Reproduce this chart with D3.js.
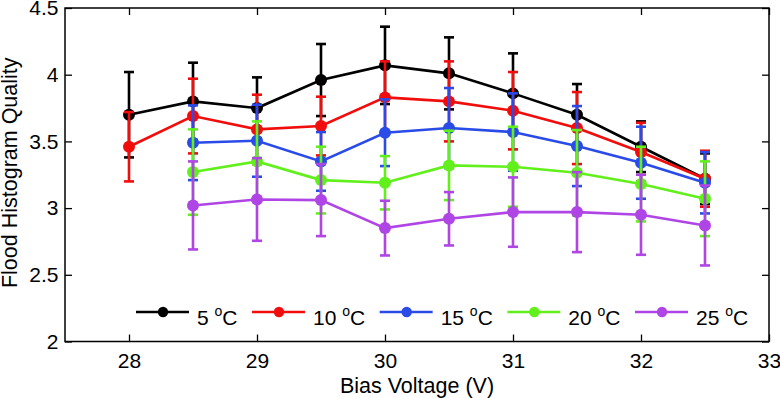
<!DOCTYPE html>
<html lang="en">
<head>
<meta charset="utf-8">
<title>Flood Histogram Quality vs Bias Voltage</title>
<style>
  body { margin: 0; background: #fff; }
  svg { display: block; font-family: "Liberation Sans", Arial, sans-serif; }
  .axis text { font-size: 21px; fill: #000; }
  .axis line { stroke: #000; stroke-width: 1.3; }
</style>
<script src="https://d3js.org/d3.v7.min.js"></script>
</head>
<body>
<script>
  // data
  const voltage = [28, 28.5, 29, 29.5, 30, 30.5, 31, 31.5, 32, 32.5]
  const temps = ["5", "10", "15", "20", "25"]
  const q5  = [3.70, 3.80, 3.75, 3.96, 4.07, 4.01, 3.86, 3.70, 3.46, 3.22]
  const e5  = [0.32, 0.29, 0.23, 0.27, 0.29, 0.27, 0.30, 0.23, 0.19, 0.19]
  const q10 = [3.46, 3.69, 3.59, 3.615, 3.83, 3.80, 3.73, 3.60, 3.42, 3.22]
  const e10 = [0.26, 0.28, 0.26, 0.22, 0.27, 0.30, 0.29, 0.27, 0.22, 0.21]
  const q15 = [null, 3.49, 3.505, 3.35, 3.565, 3.60, 3.57, 3.465, 3.34, 3.19]
  const e15 = [null, 0.28, 0.27, 0.22, 0.25, 0.30, 0.29, 0.30, 0.27, 0.23]
  const q20 = [null, 3.27, 3.35, 3.21, 3.19, 3.32, 3.31, 3.265, 3.18, 3.07]
  const e20 = [null, 0.32, 0.30, 0.25, 0.20, 0.26, 0.30, 0.32, 0.28, 0.28]
  const q25 = [null, 3.02, 3.065, 3.06, 2.85, 2.92, 2.97, 2.97, 2.95, 2.87]
  const e25 = [null, 0.33, 0.31, 0.27, 0.205, 0.20, 0.26, 0.30, 0.30, 0.30]
  const xTicks = [28, 29, 30, 31, 32, 33]
  const yTicks = [2, 2.5, 3, 3.5, 4, 4.5]

  const colors = ["#000000", "#f20d0d", "#2a4be8", "#62f01c", "#b045e6"]
  const means = [q5, q10, q15, q20, q25]
  const errs = [e5, e10, e15, e20, e25]

  const width = 780, height = 398
  const plotLeft = 65, plotRight = 769, plotTop = 8, plotBottom = 341.5

  const svg = d3.select("body").append("svg")
      .attr("width", width)
      .attr("height", height)

  const x = d3.scaleLinear().domain([27.5, 33]).range([plotLeft, plotRight])
  const y = d3.scaleLinear().domain([2, 4.5]).range([plotBottom, plotTop])

  // axes, ticks pointing inward on all four sides
  svg.append("g").attr("class", "axis")
      .attr("transform", `translate(0,${plotBottom})`)
      .call(d3.axisBottom(x).tickValues(xTicks).tickSize(-7).tickPadding(12).tickFormat(d3.format("d")))
  svg.append("g").attr("class", "axis")
      .attr("transform", `translate(0,${plotTop})`)
      .call(d3.axisTop(x).tickValues(xTicks).tickSize(-7).tickFormat(""))
  svg.append("g").attr("class", "axis")
      .attr("transform", `translate(${plotLeft},0)`)
      .call(d3.axisLeft(y).tickValues(yTicks).tickSize(-7).tickPadding(6.5).tickFormat(d => d))
  svg.append("g").attr("class", "axis")
      .attr("transform", `translate(${plotRight},0)`)
      .call(d3.axisRight(y).tickValues(yTicks).tickSize(-7).tickFormat(""))
  svg.selectAll(".axis .domain").remove()
  svg.selectAll(".axis").attr("font-family", null).attr("font-size", null)

  svg.append("rect")
      .attr("x", plotLeft).attr("y", plotTop)
      .attr("width", plotRight - plotLeft).attr("height", plotBottom - plotTop)
      .attr("fill", "none").attr("stroke", "#000").attr("stroke-width", 1.5)

  // series
  const line = d3.line().x(d => x(d.v)).y(d => y(d.q))
  temps.forEach((t, i) => {
    const pts = voltage.map((v, j) => ({ v, q: means[i][j], e: errs[i][j] }))
                       .filter(d => d.q != null)
    const g = svg.append("g")
    const bars = g.selectAll("g.eb").data(pts).enter().append("g")
        .attr("stroke", colors[i]).attr("stroke-width", 2.6)
    bars.append("line")
        .attr("x1", d => x(d.v)).attr("x2", d => x(d.v))
        .attr("y1", d => y(d.q - d.e)).attr("y2", d => y(d.q + d.e))
    bars.append("line")
        .attr("x1", d => x(d.v) - 5).attr("x2", d => x(d.v) + 5)
        .attr("y1", d => y(d.q + d.e)).attr("y2", d => y(d.q + d.e))
    bars.append("line")
        .attr("x1", d => x(d.v) - 5).attr("x2", d => x(d.v) + 5)
        .attr("y1", d => y(d.q - d.e)).attr("y2", d => y(d.q - d.e))
    g.append("path").datum(pts)
        .attr("d", line)
        .attr("fill", "none").attr("stroke", colors[i]).attr("stroke-width", 2.6)
    g.selectAll("circle").data(pts).enter().append("circle")
        .attr("cx", d => x(d.v)).attr("cy", d => y(d.q))
        .attr("r", 6).attr("fill", colors[i])
  })

  // axis titles
  svg.append("text")
      .attr("x", (plotLeft + plotRight) / 2).attr("y", 393)
      .attr("text-anchor", "middle").attr("font-size", 21.5)
      .text("Bias Voltage (V)")
  svg.append("text")
      .attr("transform", `translate(17,${(plotTop + plotBottom) / 2 - 2}) rotate(-90)`)
      .attr("text-anchor", "middle").attr("font-size", 21.5)
      .text("Flood Histogram Quality")

  // legend, no box
  const legend = svg.append("g").attr("transform", "translate(0,312)")
  let lx = 136
  temps.forEach((t, i) => {
    const item = legend.append("g").attr("transform", `translate(${lx},0)`)
    item.append("line").attr("x1", 0).attr("x2", 53)
        .attr("stroke", colors[i]).attr("stroke-width", 2.6)
    item.append("circle").attr("cx", 27).attr("r", 5.2).attr("fill", colors[i])
    const txt = item.append("text").attr("x", 61).attr("y", 12.5).attr("font-size", 21)
    txt.append("tspan").text(t + " ")
    txt.append("tspan").attr("font-size", 14).attr("dy", -8.5).text("o")
    txt.append("tspan").attr("dy", 8.5).text("C")
    lx += 61 + txt.node().getComputedTextLength() + 14.5
  })
</script>
</body>
</html>
